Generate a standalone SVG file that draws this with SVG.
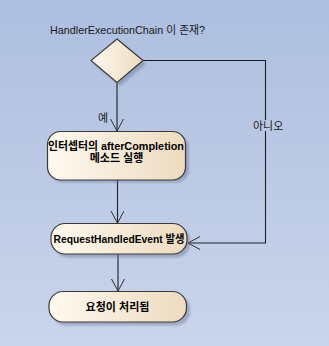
<svg xmlns="http://www.w3.org/2000/svg" width="329" height="346" viewBox="0 0 329 346">
<defs>
<linearGradient id="bg" x1="0" y1="0" x2="0" y2="1">
<stop offset="0" stop-color="#adbedf"/>
<stop offset="1" stop-color="#cad5eb"/>
</linearGradient>
<linearGradient id="nodeFill" x1="0" y1="0" x2="1" y2="0">
<stop offset="0" stop-color="#fef9f0"/>
<stop offset="1" stop-color="#eedbbf"/>
</linearGradient>
<filter id="shadow" x="-10%" y="-10%" width="130%" height="140%">
<feGaussianBlur stdDeviation="1.2"/>
</filter>
<marker id="arrow" markerWidth="14" markerHeight="14" refX="12" refY="6.5" orient="auto" markerUnits="userSpaceOnUse">
<path d="M0,0 L12,6.5 L0,13" fill="none" stroke="#303030" stroke-width="1"/>
</marker>
<style>
.node{fill:url(#nodeFill);stroke:#3a3a3a;stroke-width:1.2}
.shadow{fill:#6b7590;opacity:0.45;filter:url(#shadow)}
.ntext{font-family:"Liberation Sans","Noto Sans CJK KR",sans-serif;font-size:11px;font-weight:bold;fill:#000;text-anchor:middle}
.label{font-family:"Liberation Sans","Noto Sans CJK KR",sans-serif;font-size:11px;fill:#1a1a1a}
.edge{fill:none;stroke:#202020;stroke-width:1.1}
</style>
</defs>
<rect x="0" y="0" width="329" height="346" fill="url(#bg)"/>

<g id="connectors">
<path class="edge" d="M117,83 L117,131" marker-end="url(#arrow)"/>
<path class="edge" d="M117.5,180 L117.5,223" marker-end="url(#arrow)"/>
<path class="edge" d="M118,254 L118,291" marker-end="url(#arrow)"/>
<path class="edge" d="M143,60.5 L265.5,60.5 L265.5,243 L188,243" marker-end="url(#arrow)"/>
<rect x="251" y="120" width="34" height="11" fill="#b9c6e4"/>
<text class="label" x="253" y="129.5">아니오</text>
<text class="label" x="98" y="122">예</text>
</g>

<g id="decision">
<text class="label" x="50" y="34" textLength="155" lengthAdjust="spacingAndGlyphs">HandlerExecutionChain 이 존재?</text>
<polygon class="shadow" points="120,42 146,64 120,86 94,64"/>
<polygon class="node" points="117,39 143,60.5 117,82.5 91,60.5"/>
</g>

<g id="node-aftercompletion">
<rect class="shadow" x="50" y="134.5" width="139" height="48" rx="13"/>
<rect class="node" x="47.5" y="131.5" width="138" height="48.5" rx="13"/>
<text class="ntext" x="116" y="150" textLength="136" lengthAdjust="spacingAndGlyphs">인터셉터의 afterCompletion</text>
<text class="ntext" x="116.5" y="161.5">메소드 실행</text>
</g>

<g id="node-event">
<rect class="shadow" x="54" y="226.5" width="136" height="31" rx="14"/>
<rect class="node" x="51" y="223.5" width="136" height="30.5" rx="14"/>
<text class="ntext" x="119" y="243" textLength="131" lengthAdjust="spacingAndGlyphs">RequestHandledEvent 발생</text>
</g>

<g id="node-done">
<rect class="shadow" x="52" y="295" width="138" height="30.5" rx="14"/>
<rect class="node" x="49" y="291.5" width="137.5" height="30.5" rx="14"/>
<text class="ntext" x="117.5" y="310.5">요청이 처리됨</text>
</g>
</svg>
